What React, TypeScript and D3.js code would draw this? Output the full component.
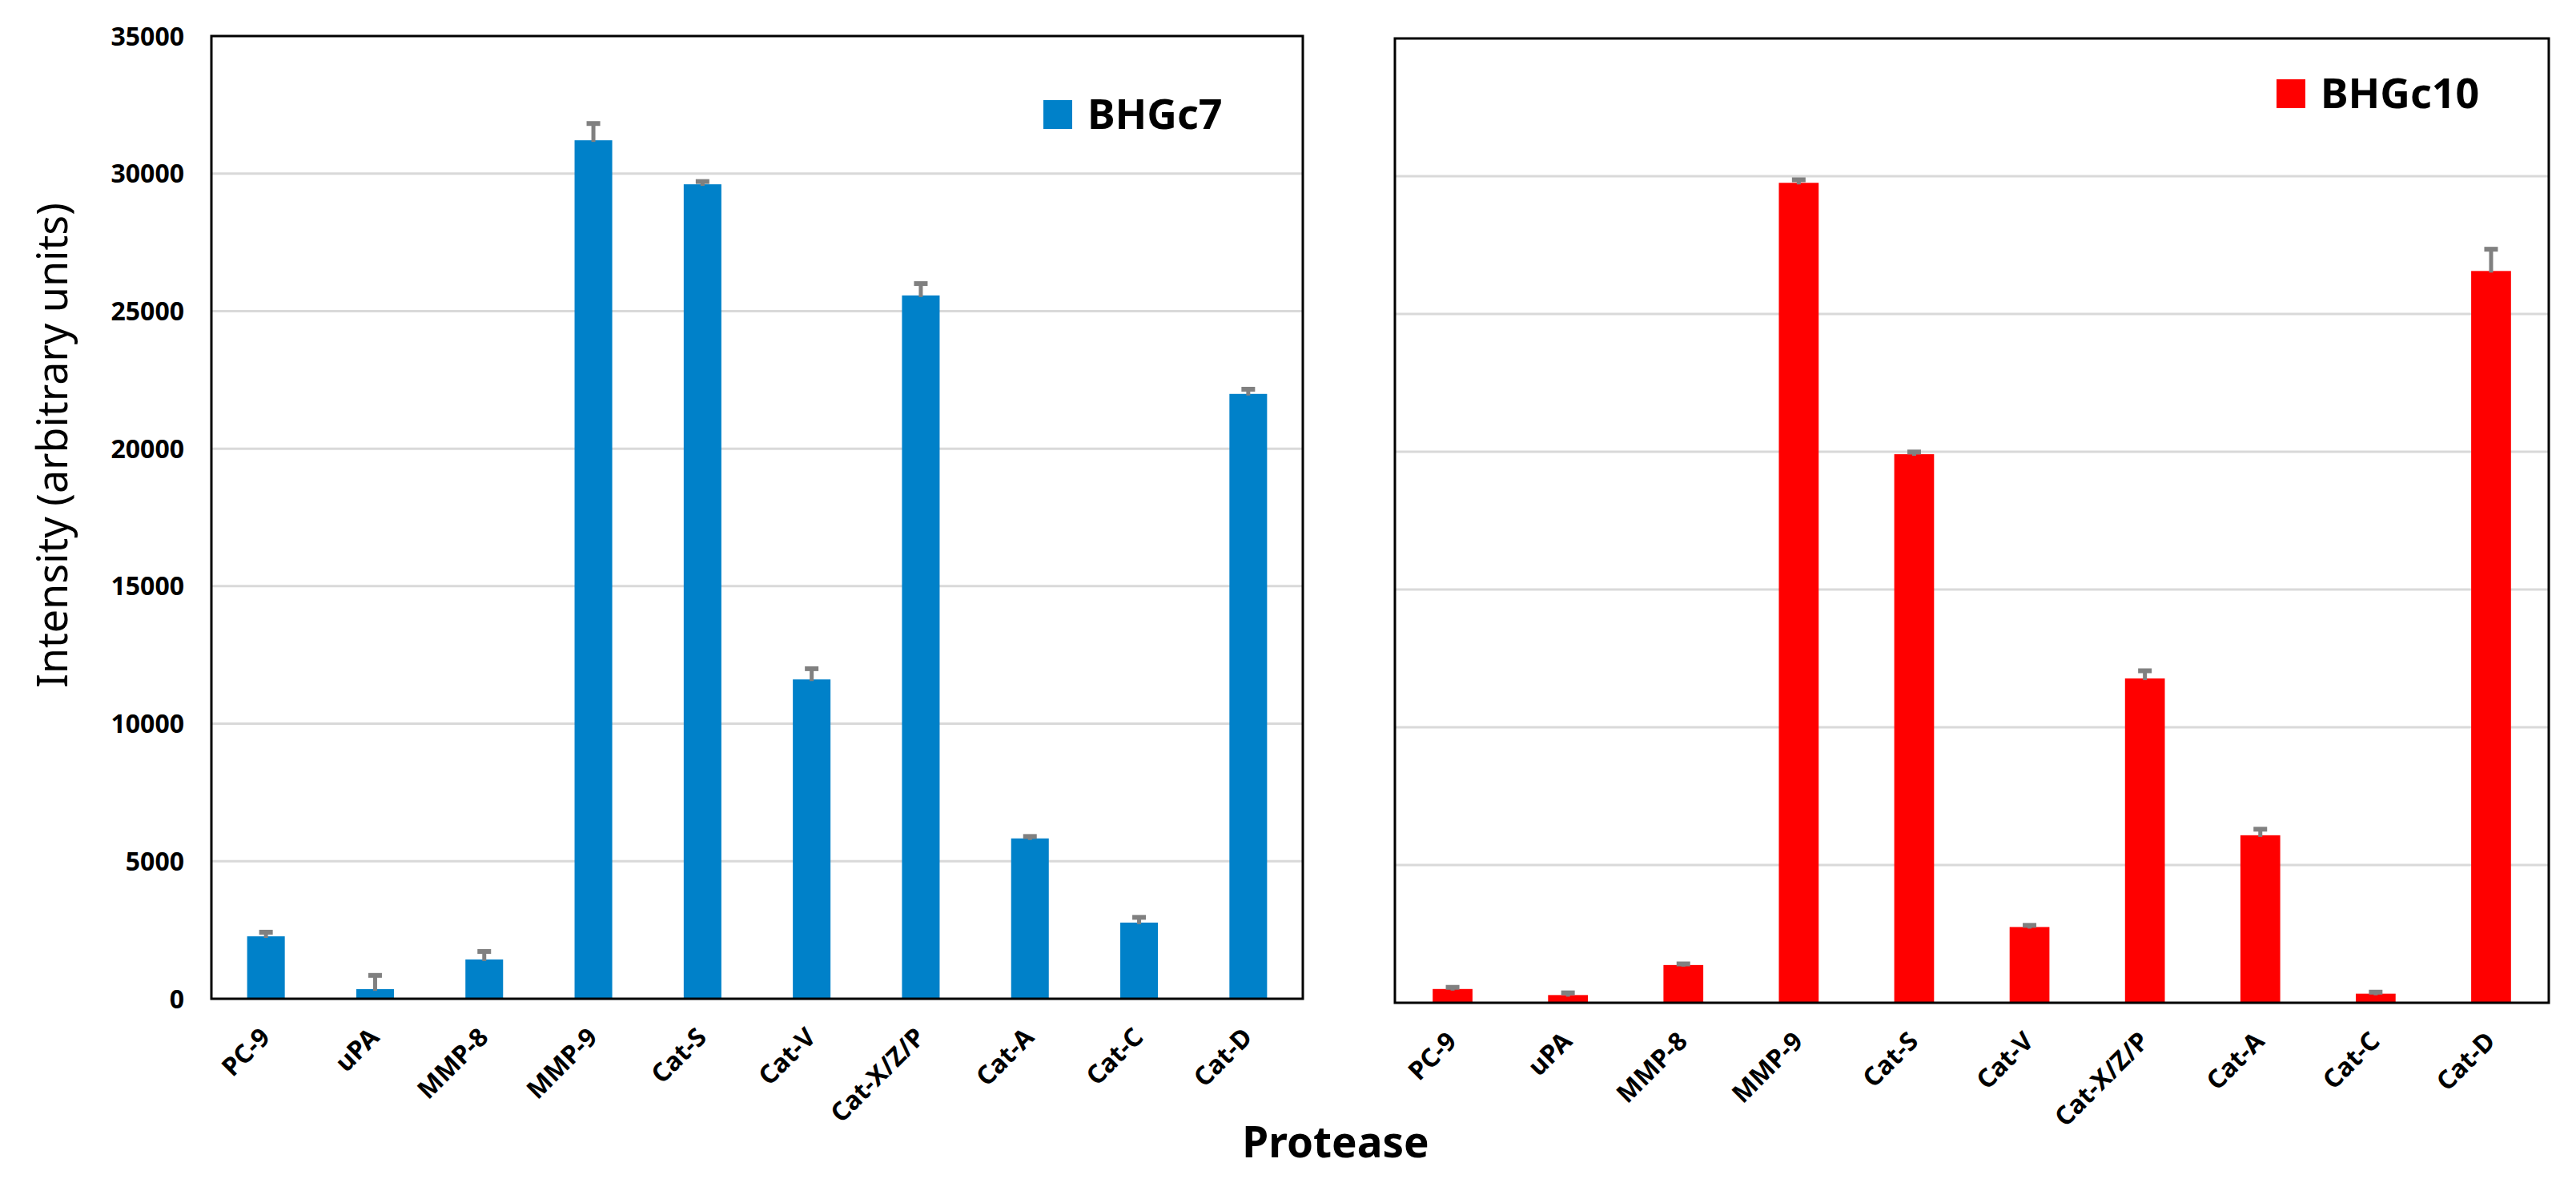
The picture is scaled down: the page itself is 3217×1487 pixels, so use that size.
import { useRef, useEffect } from 'react';
import * as d3 from 'd3';

const proteases = ['PC-9', 'uPA', 'MMP-8', 'MMP-9', 'Cat-S', 'Cat-V', 'Cat-X/Z/P', 'Cat-A', 'Cat-C', 'Cat-D'];
const bhgc7Values = [2270, 350, 1430, 31210, 29610, 11610, 25570, 5830, 2770, 21990];
const bhgc7Errors = [150, 500, 290, 610, 100, 390, 430, 70, 190, 170];
const bhgc10Values = [500, 280, 1370, 29760, 19910, 2750, 11770, 6080, 330, 26560];
const bhgc10Errors = [60, 80, 40, 110, 80, 60, 280, 220, 55, 790];
const yTicks = [0, 5000, 10000, 15000, 20000, 25000, 30000, 35000];

const W = 3217;
const H = 1487;
const FONT = '"Noto Sans", "Open Sans", sans-serif';

interface Panel {
  name: string;
  color: string;
  values: number[];
  errors: number[];
  x0: number; x1: number; y0: number; y1: number;
  yLabels: boolean;
  legendX: number; legendY: number;
}

const panels: Panel[] = [
  { name: 'BHGc7', color: '#0081c9', values: bhgc7Values, errors: bhgc7Errors,
    x0: 264, x1: 1627, y0: 45, y1: 1247, yLabels: true, legendX: 1303, legendY: 125 },
  { name: 'BHGc10', color: '#ff0000', values: bhgc10Values, errors: bhgc10Errors,
    x0: 1742, x1: 3183, y0: 48, y1: 1252, yLabels: false, legendX: 2843, legendY: 99 },
];

export default function App() {
  const svgRef = useRef<SVGSVGElement>(null);

  useEffect(() => {
    if (!svgRef.current) return;
    const svg = d3.select(svgRef.current);
    svg.selectAll('*').remove();

    panels.forEach((p) => {
      const x = d3.scaleBand().domain(proteases).range([p.x0, p.x1]).paddingInner(0.655).paddingOuter(0.3275);
      const y = d3.scaleLinear().domain([0, 35000]).range([p.y1, p.y0]);
      const g = svg.append('g');

      // gridlines
      g.selectAll('.grid').data(yTicks.slice(1, -1)).join('line')
        .attr('x1', p.x0).attr('x2', p.x1)
        .attr('y1', (d) => y(d)).attr('y2', (d) => y(d))
        .attr('stroke', '#d9d9d9').attr('stroke-width', 3);

      const rows = proteases.map((c, i) => ({ c, v: p.values[i], e: p.errors[i] }));

      g.selectAll('.bar').data(rows).join('rect')
        .attr('x', (d) => x(d.c) ?? 0).attr('width', x.bandwidth())
        .attr('y', (d) => y(d.v)).attr('height', (d) => y(0) - y(d.v))
        .attr('fill', p.color);

      // error bars (plus only)
      const cx = (c: string) => (x(c) ?? 0) + x.bandwidth() / 2;
      g.selectAll('.estem').data(rows).join('line')
        .attr('x1', (d) => cx(d.c)).attr('x2', (d) => cx(d.c))
        .attr('y1', (d) => y(d.v) + 2).attr('y2', (d) => y(d.v + d.e))
        .attr('stroke', '#808080').attr('stroke-width', 5);
      g.selectAll('.ecap').data(rows).join('line')
        .attr('x1', (d) => cx(d.c) - 8.5).attr('x2', (d) => cx(d.c) + 8.5)
        .attr('y1', (d) => y(d.v + d.e)).attr('y2', (d) => y(d.v + d.e))
        .attr('stroke', '#808080').attr('stroke-width', 6);

      // frame
      g.append('rect').attr('x', p.x0).attr('y', p.y0)
        .attr('width', p.x1 - p.x0).attr('height', p.y1 - p.y0)
        .attr('fill', 'none').attr('stroke', '#000').attr('stroke-width', 3);

      if (p.yLabels) {
        g.selectAll('.ytick').data(yTicks).join('text')
          .attr('x', p.x0 - 34).attr('y', (d) => y(d)).attr('dy', '0.36em')
          .attr('text-anchor', 'end').attr('font-family', FONT).attr('font-weight', 700)
          .attr('font-size', 32).text((d) => String(d));
      }

      g.selectAll('.xtick').data(proteases).join('text')
        .attr('transform', (d) => `translate(${cx(d) + 7},${p.y1 + 50}) rotate(-45)`)
        .attr('text-anchor', 'end').attr('font-family', FONT).attr('font-weight', 700)
        .attr('font-size', 32).text((d) => d);

      // legend
      g.append('rect').attr('x', p.legendX).attr('y', p.legendY).attr('width', 36).attr('height', 36).attr('fill', p.color);
      g.append('text').attr('x', p.legendX + 55).attr('y', p.legendY + 36)
        .attr('font-family', FONT).attr('font-weight', 700).attr('font-size', 52).text(p.name);
    });

    svg.append('text').attr('x', 1668).attr('y', 1445).attr('text-anchor', 'middle')
      .attr('font-family', FONT).attr('font-weight', 700).attr('font-size', 53).text('Protease');

    svg.append('text').attr('transform', 'translate(84,556) rotate(-90)').attr('text-anchor', 'middle')
      .attr('font-family', FONT).attr('font-size', 52).text('Intensity (arbitrary units)');
  }, []);

  return (
    <svg ref={svgRef} width={W} height={H}
      style={{ position: 'absolute', left: 0, top: 0, background: '#fff' }} />
  );
}
